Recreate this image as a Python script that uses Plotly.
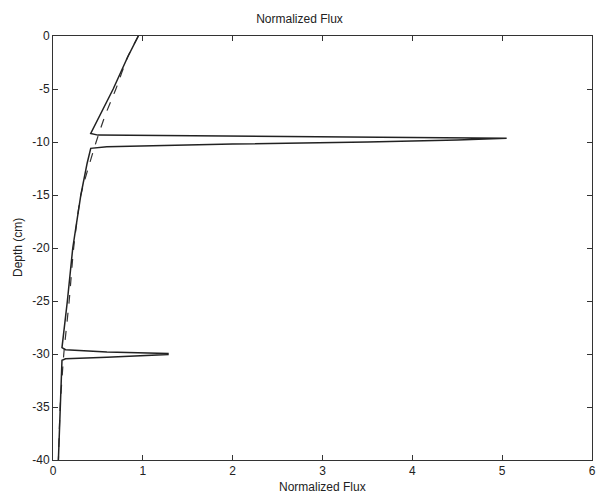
import plotly.graph_objects as go

# Solid curve (flux with peaks)
solid_x = [0.95, 0.83, 0.67, 0.55, 0.42, 0.5, 2.0, 3.5, 5.05, 5.05, 4.5, 3.5, 2.0, 1.0, 0.6, 0.42,
           0.38, 0.31, 0.22, 0.16, 0.10, 0.14, 0.6, 1.28, 1.28, 0.6, 0.14, 0.10, 0.08, 0.06]
solid_y = [0, -2, -5, -7, -9.2, -9.35, -9.43, -9.5, -9.6, -9.65, -9.8, -10.0, -10.2, -10.35, -10.45, -10.6,
           -12, -15, -20, -25, -29.4, -29.6, -29.8, -29.95, -30.05, -30.3, -30.45, -30.6, -35, -40]

# Dashed curve (reference)
dashed_x = [0.95, 0.83, 0.70, 0.58, 0.48, 0.31, 0.23, 0.18, 0.12, 0.08, 0.06]
dashed_y = [0, -2, -5, -7.5, -10, -15, -20, -25, -30, -35, -40]

x_ticks = [0, 1, 2, 3, 4, 5, 6]
x_tick_labels = ["0", "1", "2", "3", "4", "5", "6"]
y_ticks = [0, -5, -10, -15, -20, -25, -30, -35, -40]
y_tick_labels = ["0", "-5", "-10", "-15", "-20", "-25", "-30", "-35", "-40"]

FONT = "Liberation Sans, Arial"

fig = go.Figure()
fig.add_trace(go.Scatter(x=dashed_x, y=dashed_y, mode="lines",
                         line=dict(color="#333", width=1.2, dash="dash", shape="spline", smoothing=0.6),
                         showlegend=False))
fig.add_trace(go.Scatter(x=solid_x, y=solid_y, mode="lines",
                         line=dict(color="#222", width=1.5),
                         showlegend=False))

axis_common = dict(showgrid=False, zeroline=False, showline=True, linecolor="#333", linewidth=1,
                   mirror="ticks", ticks="inside", ticklen=5, tickcolor="#333", automargin=False,
                   ticklabeloverflow="allow",
                   tickfont=dict(family=FONT, size=12, color="#222"))

fig.update_xaxes(range=[0, 6], tickvals=x_ticks, ticktext=x_tick_labels, **axis_common)
fig.update_yaxes(range=[-40, 0], tickvals=y_ticks, ticktext=y_tick_labels, **axis_common)

fig.update_layout(
    width=599, height=496,
    margin=dict(l=53, r=7, t=36, b=36, autoexpand=False),
    paper_bgcolor="white", plot_bgcolor="white",
    title=dict(text="Normalized Flux", x=0.5, xanchor="center", y=1 - 19 / 496, yanchor="middle",
               font=dict(family=FONT, size=12, color="#222")),
    annotations=[
        dict(text="Normalized Flux", xref="paper", yref="paper", x=0.5, y=-27 / 424,
             xanchor="center", yanchor="middle", showarrow=False,
             font=dict(family=FONT, size=12, color="#222")),
        dict(text="Depth (cm)", xref="paper", yref="paper", x=-35 / 539, y=0.5, textangle=-90,
             xanchor="center", yanchor="middle", showarrow=False,
             font=dict(family=FONT, size=12, color="#222")),
    ],
)

fig.write_html("out.html",
               config={"displayModeBar": False},
               post_script="document.body.style.margin='0';document.documentElement.style.overflow='hidden';")
